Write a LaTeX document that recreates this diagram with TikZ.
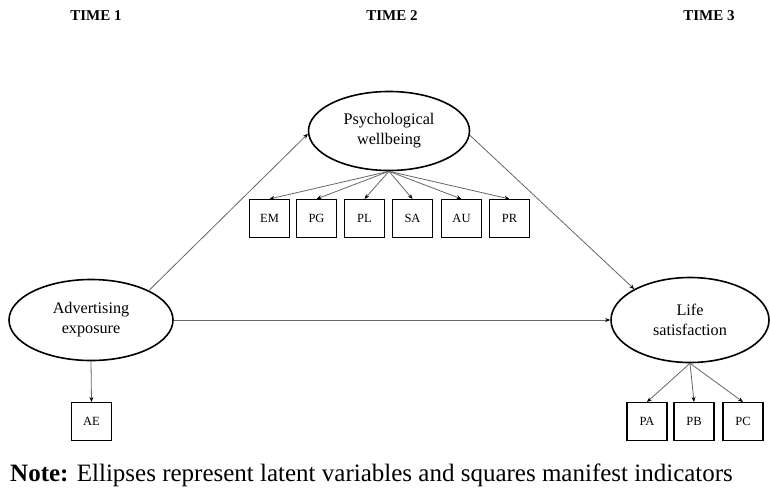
\documentclass[tikz,border=0pt]{standalone}
\usepackage{fontspec}
\setmainfont{Liberation Serif}
\usetikzlibrary{arrows.meta,shapes.geometric}
\begin{document}
\begin{tikzpicture}[x=1pt,y=-1pt,
  latent/.style={draw=black,ellipse,line width=1.6pt,inner sep=0pt,align=center,font=\fontsize{16.2}{20}\selectfont},
  manifest/.style={draw=black,rectangle,line width=1.1pt,inner sep=0pt,minimum width=40pt,minimum height=38pt,font=\fontsize{12.5}{14}\selectfont},
  arr/.style={draw=black!60,line width=0.8pt,-{Stealth[length=5pt,width=4pt,color=black]}},
  timelab/.style={font=\fontsize{15}{17}\selectfont\bfseries}]
\useasboundingbox (0,0) rectangle (770,498);
% time headers
\node[timelab] (t1) at (96,16) {TIME 1};
\node[timelab] (t2) at (392,16) {TIME 2};
\node[timelab] (t3) at (709,16) {TIME 3};
% latent variables
\node[latent,minimum width=161pt,minimum height=79pt] (psy) at (389,131) {Psychological\\wellbeing};
\node[latent,minimum width=164pt,minimum height=81pt] (adv) at (91,320) {Advertising\\exposure};
\node[latent,minimum width=158pt,minimum height=85pt] (life) at (690,320) {Life\\satisfaction};
% manifest indicators
\node[manifest] (em) at (269.5,218.5) {EM};
\node[manifest] (pg) at (316.5,218.5) {PG};
\node[manifest] (pl) at (364.5,218.5) {PL};
\node[manifest] (sa) at (412.5,218.5) {SA};
\node[manifest] (au) at (461.5,218.5) {AU};
\node[manifest] (pr) at (509.5,218.5) {PR};
\node[manifest] (ae) at (91.5,421.5) {AE};
\node[manifest] (pa) at (647,421.5) {PA};
\node[manifest] (pb) at (694,421.5) {PB};
\node[manifest] (pc) at (743,421.5) {PC};
% measurement arrows
\foreach \b in {em,pg,pl,sa,au,pr}{\draw[arr] (psy.south) -- (\b.north);}
\draw[arr] (adv.south) -- (ae.north);
\foreach \b in {pa,pb,pc}{\draw[arr] (life.south) -- (\b.north);}
% structural arrows
\draw[arr] (adv.27) -- (psy.182);
\draw[arr] (adv.east) -- (life.west);
\draw[arr] (psy.-3) -- (life.151);
% note
\node[anchor=base west,font=\fontsize{25}{28}\selectfont,inner sep=0pt] (note) at (10,481) {\textbf{Note:} Ellipses represent latent variables and squares manifest indicators};
\end{tikzpicture}
\end{document}
